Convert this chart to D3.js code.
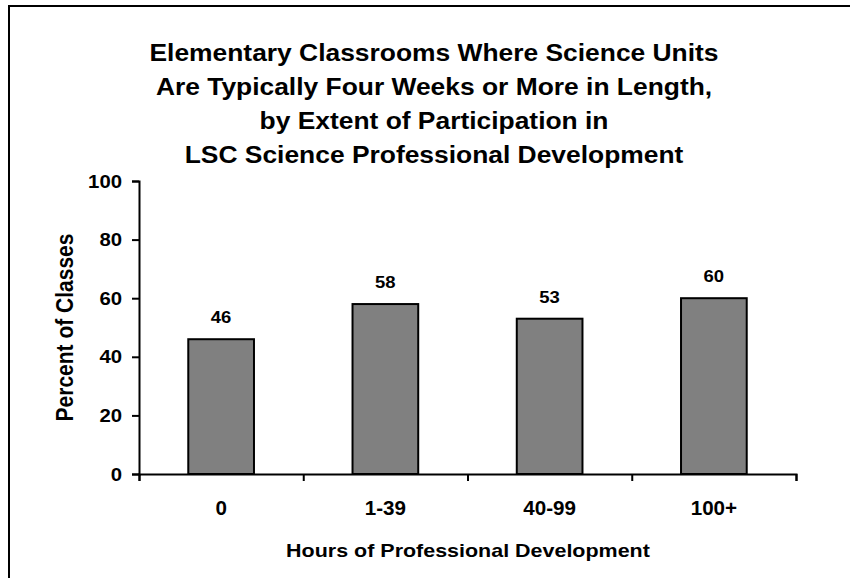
<!DOCTYPE html>
<html>
<head>
<meta charset="utf-8">
<script src="https://cdn.jsdelivr.net/npm/d3@7"></script>
<style>
  html, body { margin: 0; padding: 0; background: #fff; }
  svg { display: block; font-family: Arial, "Liberation Sans", sans-serif; }
</style>
</head>
<body>
<svg id="chart" width="850" height="578"></svg>
<script>
// data
const categories = ['0', '1-39', '40-99', '100+'];
const values = [46, 58, 53, 60];
const yTicks = [0, 20, 40, 60, 80, 100];
const titleLines = [
  'Elementary Classrooms Where Science Units',
  'Are Typically Four Weeks or More in Length,',
  'by Extent of Participation in',
  'LSC Science Professional Development'
];
const xTitle = 'Hours of Professional Development';
const yTitle = 'Percent of Classes';

const svg = d3.select('#chart');

// the original picture is a bit wider than tall, so text gets a small x stretch
function label(parent, x, y, txt, size, sx, anchor) {
  return parent.append('text')
    .attr('transform', `translate(${x},${y}) scale(${sx},1)`)
    .attr('text-anchor', anchor || 'middle')
    .attr('font-size', size)
    .attr('font-weight', 'bold')
    .attr('fill', '#000')
    .text(txt);
}

// outer frame (only left and top edges show)
svg.append('rect')
  .attr('x', 9).attr('y', 6)
  .attr('width', 860).attr('height', 600)
  .attr('fill', 'none').attr('stroke', '#000').attr('stroke-width', 2);

const plot = { left: 139, right: 796, top: 181, bottom: 474 };

const x = d3.scaleBand()
  .domain(categories)
  .range([plot.left, plot.right])
  .paddingInner(0.6)
  .paddingOuter(0.3);

const y = d3.scaleLinear()
  .domain([0, 100])
  .range([plot.bottom, plot.top]);

// title
titleLines.forEach((t, i) => label(svg, 434, 61 + i * 34, t, 24, 1.1));

// bars
svg.selectAll('rect.bar')
  .data(values)
  .join('rect')
  .attr('class', 'bar')
  .attr('x', (d, i) => x(categories[i]))
  .attr('y', d => y(d))
  .attr('width', x.bandwidth())
  .attr('height', d => y(0) - y(d))
  .attr('fill', '#808080')
  .attr('stroke', '#000')
  .attr('stroke-width', 2);

// value labels
values.forEach((v, i) => {
  label(svg, x(categories[i]) + x.bandwidth() / 2, y(v) - 16, v, 16.5, 1.12);
});

// y axis
const yAxis = svg.append('g')
  .attr('transform', `translate(${plot.left},0)`)
  .call(d3.axisLeft(y).tickValues(yTicks).tickSize(7).tickFormat(''));
yAxis.select('.domain').attr('stroke-width', 2);
yAxis.selectAll('.tick line').attr('stroke-width', 2);
yTicks.forEach(t => label(svg, 122, y(t) + 6.5, t, 18, 1.13, 'end'));

// x axis: ticks sit on the band edges
const xEdges = d3.scaleLinear().domain([0, categories.length]).range([plot.left, plot.right]);
const xAxis = svg.append('g')
  .attr('transform', `translate(0,${plot.bottom})`)
  .call(d3.axisBottom(xEdges).ticks(categories.length).tickSize(7).tickSizeOuter(7).tickFormat(''));
xAxis.select('.domain').attr('stroke-width', 2);
xAxis.selectAll('.tick line').attr('stroke-width', 2);

// category labels
categories.forEach(c => label(svg, x(c) + x.bandwidth() / 2, 515, c, 20, 1.03));

// axis titles
label(svg, 468, 557, xTitle, 19, 1.13);

svg.append('text')
  .attr('transform', `translate(73,${(plot.top + plot.bottom) / 2}) scale(1.12,1) rotate(-90)`)
  .attr('text-anchor', 'middle')
  .attr('font-size', 21).attr('font-weight', 'bold')
  .text(yTitle);
</script>
</body>
</html>
